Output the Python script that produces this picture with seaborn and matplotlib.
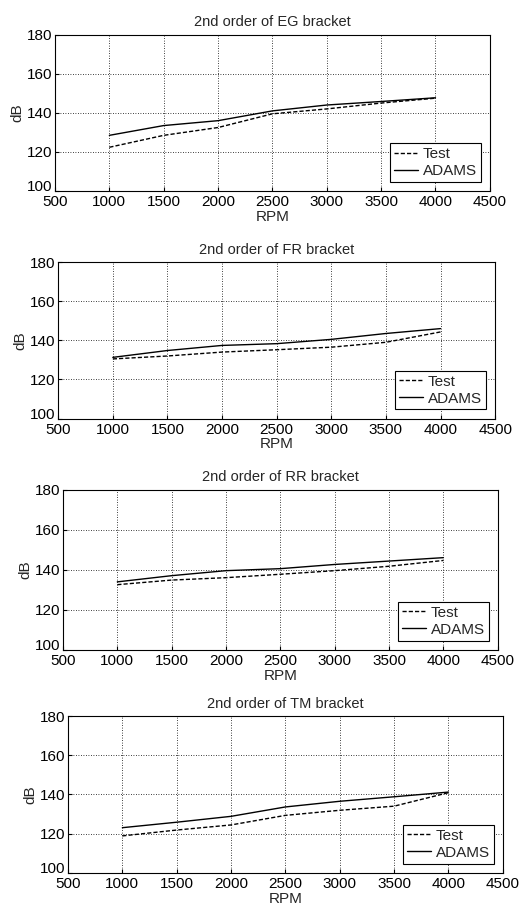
import pandas as pd
import matplotlib.pyplot as plt
import matplotlib.transforms as mtransforms
import seaborn as sns

rpm = [1000, 1500, 2000, 2500, 3000, 3500, 4000]

panels = ["EG", "FR", "RR", "TM"]

eg_test = [122.4, 128.5, 132.5, 139.5, 142.0, 145.0, 147.5]
eg_adams = [128.5, 133.5, 136.0, 141.0, 144.0, 145.8, 147.7]

fr_test = [130.5, 132.0, 134.0, 135.2, 136.5, 139.0, 144.3]
fr_adams = [131.3, 134.8, 137.4, 138.3, 140.5, 143.5, 146.0]

rr_test = [132.5, 134.8, 136.0, 137.7, 139.5, 141.7, 144.6]
rr_adams = [133.9, 137.0, 139.5, 140.5, 142.6, 144.3, 146.0]

tm_test = [118.8, 121.8, 124.4, 129.3, 131.9, 134.0, 140.9]
tm_adams = [123.0, 125.8, 128.8, 133.6, 136.5, 138.8, 141.2]

series = {
    "EG": (eg_test, eg_adams),
    "FR": (fr_test, fr_adams),
    "RR": (rr_test, rr_adams),
    "TM": (tm_test, tm_adams),
}

sns.set_style("ticks")
plt.rcParams["font.family"] = ["Liberation Sans", "DejaVu Sans"]

fig = plt.figure(figsize=(5.29, 9.10), dpi=100)

# axes boxes in figure fractions (left, bottom, width, height)
boxes = [
    (0.104, 0.790, 0.822, 0.172),
    (0.110, 0.540, 0.826, 0.172),
    (0.119, 0.286, 0.822, 0.176),
    (0.1285, 0.041, 0.822, 0.172),
]

for name, box in zip(panels, boxes):
    test, adams = series[name]
    df = pd.DataFrame({
        "RPM": rpm * 2,
        "dB": test + adams,
        "series": ["Test"] * len(rpm) + ["ADAMS"] * len(rpm),
    })
    ax = fig.add_axes(box)
    sns.lineplot(data=df, x="RPM", y="dB", style="series",
                 dashes={"Test": (3, 1.5), "ADAMS": ""},
                 color="black", linewidth=1.0, ax=ax)
    ax.set_xlim(500, 4500)
    ax.set_ylim(100, 180)
    ax.set_xticks(range(500, 4501, 500))
    ax.set_yticks(range(100, 181, 20))
    ax.grid(True, color="black", linestyle=(0, (1, 2)), linewidth=0.6)
    for s in ax.spines.values():
        s.set_color("black")
        s.set_linewidth(0.8)
    ax.tick_params(direction="in", length=3, labelsize=11, pad=2, colors="black")
    ax.tick_params(axis="x", pad=3)
    # lift the bottom "100" a little so it sits clear of the "500"
    lbl = ax.get_yticklabels()[0]
    lbl.set_transform(lbl.get_transform() +
                      mtransforms.ScaledTranslation(0, 4 / 72, fig.dpi_scale_trans))
    ax.set_title(f"2nd order of {name} bracket", fontsize=10.5, pad=6)
    ax.set_xlabel("RPM", fontsize=11, labelpad=0.5)
    ax.set_ylabel("dB", fontsize=11, labelpad=2)
    leg = ax.legend(loc="lower right", fontsize=11, frameon=True, fancybox=False,
                    handlelength=1.6, handletextpad=0.3, borderpad=0.25,
                    labelspacing=0.2, borderaxespad=0.6)
    leg.get_frame().set_edgecolor("black")
    leg.get_frame().set_linewidth(0.8)
    leg.get_frame().set_alpha(1)

fig.savefig("out.png", dpi=100)
